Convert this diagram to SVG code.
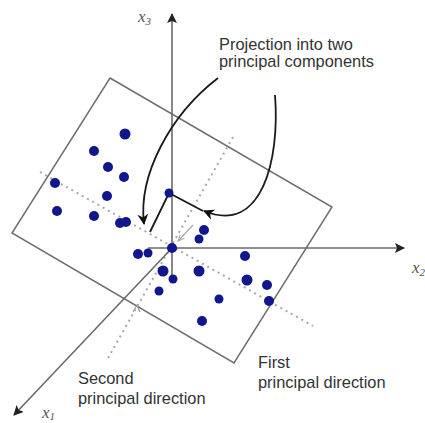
<svg xmlns="http://www.w3.org/2000/svg" width="425" height="423" viewBox="0 0 425 423">
<defs>
<style>
.axis{stroke:#6a6a6a;stroke-width:1.6;fill:none}
.plane{stroke:#6f6f6f;stroke-width:1.5;fill:none}
.dotted{stroke:#a8a8a8;stroke-width:2;stroke-dasharray:2 4;fill:none}
.curve{stroke:#1a1a1a;stroke-width:1.8;fill:none}
.pt{fill:#10168c}
.lbl{font-family:"Liberation Sans",Arial,sans-serif;font-size:16.4px;fill:#333}
.ax{font-family:"Liberation Serif","Times New Roman",serif;font-style:italic;fill:#555}
</style>
<marker id="axArrow" viewBox="0 0 10 10" refX="9" refY="5" markerWidth="10" markerHeight="10" markerUnits="userSpaceOnUse" orient="auto">
<path d="M0,0 L10,5 L0,10 L2,5 Z" fill="#222"/>
</marker>
<marker id="blkArrow" viewBox="0 0 10 10" refX="9" refY="5" markerWidth="11" markerHeight="11" markerUnits="userSpaceOnUse" orient="auto">
<path d="M0,0 L10,5 L0,10 L3,5 Z" fill="#111"/>
</marker>
<marker id="grayArrow" viewBox="0 0 10 10" refX="9" refY="5" markerWidth="7" markerHeight="7" markerUnits="userSpaceOnUse" orient="auto">
<path d="M0,1 L9,5 L0,9" fill="none" stroke="#aaa" stroke-width="1.5"/>
</marker>
</defs>
<rect width="425" height="423" fill="#fff"/>

<g id="plane">
<polygon class="plane" points="110,78 332,207 234,363 12,233"/>
</g>

<g id="principal-directions">
<line class="dotted" x1="40" y1="172" x2="313" y2="326"/>
<line class="dotted" x1="233" y1="137" x2="108" y2="358"/>
<line x1="193" y1="225" x2="178" y2="241" stroke="#aaa" stroke-width="1.3" marker-end="url(#grayArrow)"/>
<path d="M133,312 L137,305 L140,312" fill="none" stroke="#999" stroke-width="1.2"/>
</g>

<g id="axes">
<line class="axis" x1="172" y1="280" x2="172" y2="14" marker-end="url(#axArrow)"/>
<line class="axis" x1="148" y1="248" x2="404" y2="248" marker-end="url(#axArrow)"/>
<line class="axis" x1="172" y1="248" x2="14" y2="415" marker-end="url(#axArrow)"/>
</g>

<g id="points">
<circle class="pt" cx="125" cy="134" r="5.5"/>
<circle class="pt" cx="94" cy="151" r="5"/>
<circle class="pt" cx="108" cy="167" r="5"/>
<circle class="pt" cx="124" cy="177" r="5"/>
<circle class="pt" cx="55" cy="183" r="5"/>
<circle class="pt" cx="107" cy="196" r="5"/>
<circle class="pt" cx="57" cy="211" r="5"/>
<circle class="pt" cx="94" cy="216" r="5"/>
<circle class="pt" cx="120" cy="223" r="5"/>
<circle class="pt" cx="126" cy="222" r="5"/>
<circle class="pt" cx="204" cy="230" r="5"/>
<circle class="pt" cx="199" cy="239" r="4.5"/>
<circle class="pt" cx="138" cy="254" r="5"/>
<circle class="pt" cx="148" cy="253" r="4.5"/>
<circle class="pt" cx="172" cy="248" r="5"/>
<circle class="pt" cx="163" cy="271" r="5.5"/>
<circle class="pt" cx="173" cy="279" r="4.5"/>
<circle class="pt" cx="199" cy="271" r="5.5"/>
<circle class="pt" cx="245" cy="256" r="5"/>
<circle class="pt" cx="247" cy="280" r="5.5"/>
<circle class="pt" cx="267" cy="285" r="5"/>
<circle class="pt" cx="159" cy="291" r="4.5"/>
<circle class="pt" cx="219" cy="299" r="4.5"/>
<circle class="pt" cx="269" cy="301" r="5"/>
<circle class="pt" cx="202" cy="321" r="5"/>
</g>

<g id="projection">
<polyline class="curve" points="150,232 169,193 203,211"/>
<circle class="pt" cx="169" cy="193" r="4.5"/>
</g>

<g id="connectors">
<path class="curve" d="M218,78 C170,115 138,175 144,224" marker-end="url(#blkArrow)"/>
<path class="curve" d="M275,95 C280,160 262,235 204,211" marker-end="url(#blkArrow)"/>
</g>

<g id="labels">
<text class="lbl" x="219" y="50">Projection into two</text>
<text class="lbl" x="219" y="67">principal components</text>
<text class="lbl" x="258" y="368">First</text>
<text class="lbl" x="258" y="388">principal direction</text>
<text class="lbl" x="78" y="384">Second</text>
<text class="lbl" x="78" y="404">principal direction</text>
<text class="ax" x="138" y="22" font-size="17">x<tspan font-size="11" dy="3">3</tspan></text>
<text class="ax" x="412" y="273" font-size="17">x<tspan font-size="11" dy="3">2</tspan></text>
<text class="ax" x="42" y="418" font-size="17">x<tspan font-size="11" dy="2">1</tspan></text>
</g>
</svg>
